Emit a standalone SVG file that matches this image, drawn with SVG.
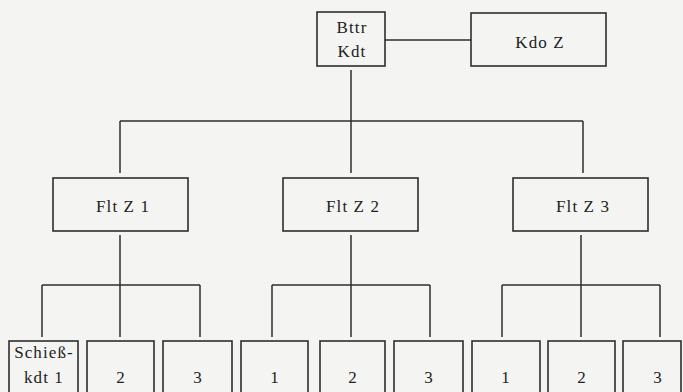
<svg xmlns="http://www.w3.org/2000/svg" width="683" height="392" viewBox="0 0 683 392">
<style>
.box{fill:none;stroke:#2e2e2e;stroke-width:1.6}
.ln{fill:none;stroke:#2e2e2e;stroke-width:1.5}
text{font-family:"Liberation Serif","DejaVu Serif",serif;font-size:17px;letter-spacing:1.1px;fill:#222;text-anchor:middle;font-variant-numeric:oldstyle-nums}
</style>
<rect x="0" y="0" width="683" height="392" fill="#f4f4f2"/>
<g id="connectors">
<path class="ln" d="M385 40H471"/>
<path class="ln" d="M351 70V121M120 121H583M120 121V173M351 121V173M583 121V173"/>
<path class="ln" d="M120 235V285M42 285H200M42 285V337M120 285V337M200 285V337"/>
<path class="ln" d="M351 235V285M272 285H430M272 285V337M351 285V337M430 285V337"/>
<path class="ln" d="M581 235V285M502 285H660M502 285V337M581 285V337M660 285V337"/>
</g>
<g id="bttr-kdt"><rect class="box" x="317" y="12" width="68" height="54"/><text x="352" y="33">Bttr</text><text x="352" y="57">Kdt</text></g>
<g id="kdo-z"><rect class="box" x="471" y="13" width="135" height="53"/><text x="540" y="48">Kdo Z</text></g>
<g id="flt-z-1"><rect class="box" x="53" y="178" width="135" height="53"/><text x="123" y="212">Flt Z 1</text></g>
<g id="flt-z-2"><rect class="box" x="283" y="178" width="135" height="53"/><text x="353" y="212">Flt Z 2</text></g>
<g id="flt-z-3"><rect class="box" x="513" y="178" width="135" height="53"/><text x="583" y="212">Flt Z 3</text></g>
<g id="g1-1"><rect class="box" x="9" y="341" width="69" height="70"/><text x="44" y="358">Schieß-</text><text x="44" y="383">kdt 1</text></g>
<g id="g1-2"><rect class="box" x="87" y="341" width="67" height="70"/><text x="121" y="383">2</text></g>
<g id="g1-3"><rect class="box" x="163" y="341" width="69" height="70"/><text x="198" y="383">3</text></g>
<g id="g2-1"><rect class="box" x="241" y="341" width="67" height="70"/><text x="275" y="383">1</text></g>
<g id="g2-2"><rect class="box" x="320" y="341" width="65" height="70"/><text x="353" y="383">2</text></g>
<g id="g2-3"><rect class="box" x="394" y="341" width="69" height="70"/><text x="429" y="383">3</text></g>
<g id="g3-1"><rect class="box" x="472" y="341" width="68" height="70"/><text x="506" y="383">1</text></g>
<g id="g3-2"><rect class="box" x="548" y="341" width="67" height="70"/><text x="582" y="383">2</text></g>
<g id="g3-3"><rect class="box" x="623" y="341" width="58" height="70"/><text x="658" y="383">3</text></g>
</svg>
